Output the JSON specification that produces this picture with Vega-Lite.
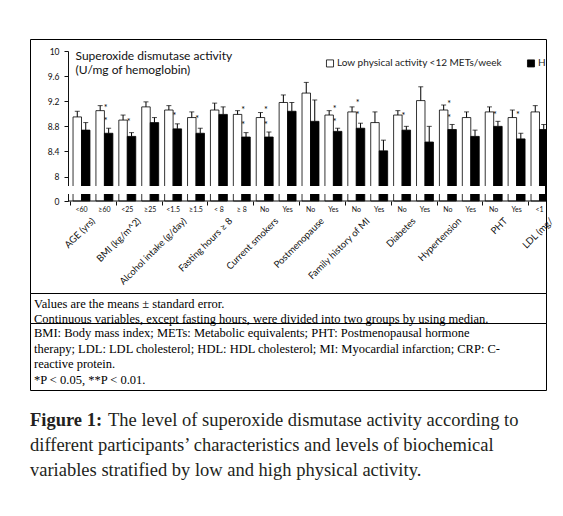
{
  "$schema": "https://vega.github.io/schema/vega-lite/v6.json",
  "description": "Superoxide dismutase activity by participant characteristics, low vs high physical activity.",
  "padding": {"left": 25, "top": 38, "right": 0, "bottom": 0},
  "background": "white",
  "spacing": 0,
  "bounds": "flush",
  "datasets": {
    "bars": [
      {"key": "AGE|<60", "series": "Low physical activity <12 METs/week", "mean": 8.95, "upper": 9.04},
      {"key": "AGE|<60", "series": "High physical activity ≥12 METs/week", "mean": 8.74, "upper": 8.86},
      {"key": "AGE|≥60", "series": "Low physical activity <12 METs/week", "mean": 9.05, "upper": 9.13},
      {"key": "AGE|≥60", "series": "High physical activity ≥12 METs/week", "mean": 8.69, "upper": 8.77},
      {"key": "BMI|<25", "series": "Low physical activity <12 METs/week", "mean": 8.90, "upper": 8.98},
      {"key": "BMI|<25", "series": "High physical activity ≥12 METs/week", "mean": 8.64, "upper": 8.70},
      {"key": "BMI|≥25", "series": "Low physical activity <12 METs/week", "mean": 9.11, "upper": 9.19},
      {"key": "BMI|≥25", "series": "High physical activity ≥12 METs/week", "mean": 8.86, "upper": 8.94},
      {"key": "ALC|<1.5", "series": "Low physical activity <12 METs/week", "mean": 9.06, "upper": 9.13},
      {"key": "ALC|<1.5", "series": "High physical activity ≥12 METs/week", "mean": 8.76, "upper": 8.84},
      {"key": "ALC|≥1.5", "series": "Low physical activity <12 METs/week", "mean": 8.94, "upper": 9.03},
      {"key": "ALC|≥1.5", "series": "High physical activity ≥12 METs/week", "mean": 8.69, "upper": 8.77},
      {"key": "FAST|< 8", "series": "Low physical activity <12 METs/week", "mean": 9.06, "upper": 9.17},
      {"key": "FAST|< 8", "series": "High physical activity ≥12 METs/week", "mean": 8.99, "upper": 9.11},
      {"key": "FAST|≥ 8", "series": "Low physical activity <12 METs/week", "mean": 8.99, "upper": 9.05},
      {"key": "FAST|≥ 8", "series": "High physical activity ≥12 METs/week", "mean": 8.63, "upper": 8.70},
      {"key": "SMK|No", "series": "Low physical activity <12 METs/week", "mean": 8.94, "upper": 9.02},
      {"key": "SMK|No", "series": "High physical activity ≥12 METs/week", "mean": 8.63, "upper": 8.71},
      {"key": "SMK|Yes", "series": "Low physical activity <12 METs/week", "mean": 9.18, "upper": 9.30},
      {"key": "SMK|Yes", "series": "High physical activity ≥12 METs/week", "mean": 9.04, "upper": 9.18},
      {"key": "PM|No", "series": "Low physical activity <12 METs/week", "mean": 9.33, "upper": 9.50},
      {"key": "PM|No", "series": "High physical activity ≥12 METs/week", "mean": 8.88, "upper": 9.22},
      {"key": "PM|Yes", "series": "Low physical activity <12 METs/week", "mean": 8.98, "upper": 9.05},
      {"key": "PM|Yes", "series": "High physical activity ≥12 METs/week", "mean": 8.72, "upper": 8.77},
      {"key": "FMI|No", "series": "Low physical activity <12 METs/week", "mean": 9.03, "upper": 9.11},
      {"key": "FMI|No", "series": "High physical activity ≥12 METs/week", "mean": 8.77, "upper": 8.85},
      {"key": "FMI|Yes", "series": "Low physical activity <12 METs/week", "mean": 8.86, "upper": 9.03},
      {"key": "FMI|Yes", "series": "High physical activity ≥12 METs/week", "mean": 8.41, "upper": 8.58},
      {"key": "DM|No", "series": "Low physical activity <12 METs/week", "mean": 8.98, "upper": 9.05},
      {"key": "DM|No", "series": "High physical activity ≥12 METs/week", "mean": 8.74, "upper": 8.80},
      {"key": "DM|Yes", "series": "Low physical activity <12 METs/week", "mean": 9.21, "upper": 9.43},
      {"key": "DM|Yes", "series": "High physical activity ≥12 METs/week", "mean": 8.55, "upper": 8.80},
      {"key": "HTN|No", "series": "Low physical activity <12 METs/week", "mean": 9.06, "upper": 9.14},
      {"key": "HTN|No", "series": "High physical activity ≥12 METs/week", "mean": 8.75, "upper": 8.83},
      {"key": "HTN|Yes", "series": "Low physical activity <12 METs/week", "mean": 8.94, "upper": 9.03},
      {"key": "HTN|Yes", "series": "High physical activity ≥12 METs/week", "mean": 8.64, "upper": 8.74},
      {"key": "PHT|No", "series": "Low physical activity <12 METs/week", "mean": 9.03, "upper": 9.11},
      {"key": "PHT|No", "series": "High physical activity ≥12 METs/week", "mean": 8.80, "upper": 8.88},
      {"key": "PHT|Yes", "series": "Low physical activity <12 METs/week", "mean": 8.94, "upper": 9.06},
      {"key": "PHT|Yes", "series": "High physical activity ≥12 METs/week", "mean": 8.60, "upper": 8.69},
      {"key": "LDL|<1", "series": "Low physical activity <12 METs/week", "mean": 9.03, "upper": 9.13},
      {"key": "LDL|<1", "series": "High physical activity ≥12 METs/week", "mean": 8.75, "upper": 8.83}
    ],
    "stars": [
      {"key": "AGE|≥60", "series": "High physical activity ≥12 METs/week", "pos": 9.12},
      {"key": "AGE|≥60", "series": "High physical activity ≥12 METs/week", "pos": 8.92},
      {"key": "BMI|<25", "series": "High physical activity ≥12 METs/week", "pos": 8.90},
      {"key": "ALC|<1.5", "series": "High physical activity ≥12 METs/week", "pos": 9.00},
      {"key": "ALC|≥1.5", "series": "High physical activity ≥12 METs/week", "pos": 8.95},
      {"key": "FAST|≥ 8", "series": "High physical activity ≥12 METs/week", "pos": 9.10},
      {"key": "FAST|≥ 8", "series": "High physical activity ≥12 METs/week", "pos": 8.85},
      {"key": "SMK|No", "series": "High physical activity ≥12 METs/week", "pos": 9.10},
      {"key": "SMK|No", "series": "High physical activity ≥12 METs/week", "pos": 8.86},
      {"key": "PM|Yes", "series": "High physical activity ≥12 METs/week", "pos": 9.11},
      {"key": "PM|Yes", "series": "High physical activity ≥12 METs/week", "pos": 8.90},
      {"key": "FMI|No", "series": "High physical activity ≥12 METs/week", "pos": 9.20},
      {"key": "FMI|No", "series": "High physical activity ≥12 METs/week", "pos": 9.01},
      {"key": "DM|No", "series": "High physical activity ≥12 METs/week", "pos": 8.99},
      {"key": "HTN|No", "series": "High physical activity ≥12 METs/week", "pos": 9.19},
      {"key": "HTN|No", "series": "High physical activity ≥12 METs/week", "pos": 8.97},
      {"key": "PHT|No", "series": "High physical activity ≥12 METs/week", "pos": 9.01},
      {"key": "PHT|Yes", "series": "High physical activity ≥12 METs/week", "pos": 9.01}
    ],
    "groups": [
      {"group": "AGE (yrs)"}, {"group": "BMI (kg/m^2)"}, {"group": "Alcohol intake (g/day)"},
      {"group": "Fasting hours ≥ 8"}, {"group": "Current smokers"}, {"group": "Postmenopause"},
      {"group": "Family history of MI"}, {"group": "Diabetes"}, {"group": "Hypertension"},
      {"group": "PHT"}, {"group": "LDL (mg/dL)"}
    ]
  },
  "vconcat": [
    {
      "width": 516,
      "height": 254,
      "view": {"stroke": "black", "strokeWidth": 1},
      "layer": [
        {
          "layer": [
            {
              "data": {"name": "bars"},
              "mark": {"type": "bar", "stroke": "black", "strokeWidth": 0.8, "clip": true},
              "encoding": {
                "x": {
                  "field": "key",
                  "type": "nominal",
                  "scale": {
                    "domain": ["AGE|<60", "AGE|≥60", "BMI|<25", "BMI|≥25", "ALC|<1.5", "ALC|≥1.5", "FAST|< 8", "FAST|≥ 8", "SMK|No", "SMK|Yes", "PM|No", "PM|Yes", "FMI|No", "FMI|Yes", "DM|No", "DM|Yes", "HTN|No", "HTN|Yes", "PHT|No", "PHT|Yes", "LDL|<1"],
                    "range": [38, 523],
                    "paddingInner": 0.26,
                    "paddingOuter": 0.22
                  },
                  "axis": {
                    "orient": "bottom",
                    "offset": -92,
                    "title": null,
                    "domain": false,
                    "ticks": false,
                    "labelAngle": 0,
                    "labelFontSize": 7,
                    "labelPadding": 4,
                    "labelBaseline": "top",
                    "labelColor": "#111",
                    "labelFont": "Lato",
                    "labelOverlap": false,
                    "labelFlush": false,
                    "labelExpr": "split(datum.label, '|')[1]"
                  }
                },
                "xOffset": {
                  "field": "series",
                  "type": "nominal",
                  "scale": {
                    "domain": ["Low physical activity <12 METs/week", "High physical activity ≥12 METs/week"],
                    "paddingInner": 0,
                    "paddingOuter": 0
                  }
                },
                "y": {
                  "field": "mean",
                  "type": "quantitative",
                  "scale": {"domain": [0, 1, 7.85, 10], "range": [162, 155, 147, 12], "nice": false, "zero": false},
                  "axis": {
                    "orient": "left",
                    "offset": -38,
                    "values": [0, 8, 8.4, 8.8, 9.2, 9.6, 10],
                    "labelExpr": "datum.value == 0 ? '0' : (datum.value == 8 || datum.value == 10) ? format(datum.value, 'd') : format(datum.value, '.1f')",
                    "grid": false,
                    "tickSize": 4,
                    "tickColor": "#111",
                    "domainColor": "#111",
                    "labelPadding": 5,
                    "labelFontSize": 8.5,
                    "labelFont": "Lato",
                    "labelColor": "#111",
                    "title": ["Superoxide dismutase activity", "(U/mg of hemoglobin)"],
                    "titleAngle": 0,
                    "titleAlign": "left",
                    "titleBaseline": "top",
                    "titleX": 7,
                    "titleY": 11,
                    "titleFont": "Lato",
                    "titleFontSize": 12,
                    "titleFontWeight": "normal",
                    "titleColor": "#111",
                    "titleLineHeight": 14
                  }
                },
                "fill": {
                  "field": "series",
                  "type": "nominal",
                  "scale": {
                    "domain": ["Low physical activity <12 METs/week", "High physical activity ≥12 METs/week"],
                    "range": ["white", "black"]
                  },
                  "legend": {
                    "orient": "none",
                    "legendX": 295,
                    "legendY": 19,
                    "direction": "horizontal",
                    "title": null,
                    "symbolType": "square",
                    "symbolSize": 50,
                    "symbolStrokeColor": "black",
                    "symbolStrokeWidth": 0.8,
                    "labelFont": "Lato",
                    "labelFontSize": 10,
                    "labelOffset": 2,
                    "labelColor": "#222",
                    "labelLimit": 300,
                    "columnPadding": 22,
                    "labelExpr": "indexof(datum.label, 'High') == 0 ? 'H' : datum.label"
                  }
                }
              }
            },
            {
              "data": {"name": "bars"},
              "mark": {"type": "rule", "color": "black", "strokeWidth": 1, "clip": true},
              "encoding": {
                "x": {"field": "key", "type": "nominal"},
                "xOffset": {"field": "series", "type": "nominal"},
                "y": {"field": "mean", "type": "quantitative"},
                "y2": {"field": "upper"}
              }
            },
            {
              "data": {"name": "bars"},
              "mark": {"type": "tick", "color": "black", "thickness": 1, "size": 5, "clip": true},
              "encoding": {
                "x": {"field": "key", "type": "nominal"},
                "xOffset": {"field": "series", "type": "nominal"},
                "y": {"field": "upper", "type": "quantitative"}
              }
            },
            {
              "data": {"name": "stars"},
              "mark": {"type": "text", "text": "*", "font": "Lato", "fontSize": 9, "dx": -3, "dy": 2, "baseline": "middle", "color": "black"},
              "encoding": {
                "x": {"field": "key", "type": "nominal"},
                "xOffset": {"field": "series", "type": "nominal"},
                "y": {"field": "pos", "type": "quantitative"}
              }
            },
            {
              "data": {"values": [{}]},
              "mark": {"type": "rect", "color": "white", "xOffset": -8, "x2Offset": -1},
              "encoding": {
                "x": {"datum": "AGE|<60", "type": "nominal", "bandPosition": 0},
                "x2": {"value": "width"},
                "y": {"datum": 1, "type": "quantitative"},
                "y2": {"datum": 7.85}
              }
            },
            {
              "data": {"values": [{}]},
              "mark": {"type": "rule", "color": "#111", "strokeWidth": 1, "xOffset": -5},
              "encoding": {
                "x": {"datum": "AGE|<60", "type": "nominal", "bandPosition": 0},
                "x2": {"value": "width"},
                "y": {"datum": 0, "type": "quantitative"}
              }
            }
          ]
        },
        {
          "data": {"name": "groups"},
          "mark": {"type": "point", "opacity": 0},
          "encoding": {
            "x": {
              "field": "group",
              "type": "nominal",
              "scale": {
                "type": "band",
                "domain": ["AGE (yrs)", "BMI (kg/m^2)", "Alcohol intake (g/day)", "Fasting hours ≥ 8", "Current smokers", "Postmenopause", "Family history of MI", "Diabetes", "Hypertension", "PHT", "LDL (mg/dL)"],
                "range": [40, 544],
                "paddingInner": 0,
                "paddingOuter": 0
              },
              "axis": {
                "orient": "bottom",
                "offset": -92,
                "title": null,
                "domain": false,
                "ticks": true,
                "tickBand": "extent",
                "tickSize": 4,
                "tickColor": "#111",
                "labelAngle": -45,
                "labelAlign": "right",
                "labelBaseline": "middle",
                "labelPadding": 14,
                "labelFont": "Lato",
                "labelFontSize": 9.5,
                "labelColor": "#111",
                "labelOverlap": false,
                "labelBound": false,
                "labelFlush": false,
                "labelExpr": "datum.label == 'LDL (mg/dL)' ? 'LDL (mg/' : datum.label"
              }
            }
          }
        }
      ],
      "resolve": {"scale": {"x": "independent"}, "axis": {"x": "independent"}}
    },
    {
      "width": 516,
      "height": 30,
      "view": {"stroke": "black", "strokeWidth": 1},
      "data": {
        "values": [
          {"line": 1, "text": "Values are the means ± standard error."},
          {"line": 2, "text": "Continuous variables, except fasting hours, were divided into two groups by using median."}
        ]
      },
      "mark": {"type": "text", "align": "left", "baseline": "middle", "font": "Liberation Serif", "fontSize": 12.5, "dx": 4, "color": "black"},
      "encoding": {
        "x": {"datum": 0, "type": "quantitative", "scale": {"domain": [0, 1]}, "axis": null},
        "y": {"field": "line", "type": "ordinal", "scale": {"type": "point", "padding": 0.5, "align": 0.75}, "axis": null},
        "text": {"field": "text", "type": "nominal"}
      }
    },
    {
      "width": 516,
      "height": 67,
      "view": {"stroke": "black", "strokeWidth": 1},
      "data": {
        "values": [
          {"line": 1, "text": "BMI: Body mass index; METs: Metabolic equivalents; PHT: Postmenopausal hormone"},
          {"line": 2, "text": "therapy; LDL: LDL cholesterol; HDL: HDL cholesterol; MI: Myocardial infarction; CRP: C-"},
          {"line": 3, "text": "reactive protein."},
          {"line": 4, "text": "*P < 0.05, **P < 0.01."}
        ]
      },
      "mark": {"type": "text", "align": "left", "baseline": "middle", "font": "Liberation Serif", "fontSize": 12.5, "dx": 4, "color": "black"},
      "encoding": {
        "x": {"datum": 0, "type": "quantitative", "scale": {"domain": [0, 1]}, "axis": null},
        "y": {"field": "line", "type": "ordinal", "scale": {"type": "point", "padding": 0.66, "align": 0.5}, "axis": null},
        "text": {"field": "text", "type": "nominal"}
      }
    },
    {
      "width": 516,
      "height": 100,
      "data": {
        "values": [
          {"line": 1, "lead": "Figure 1:", "text": "The level of superoxide dismutase activity according to"},
          {"line": 2, "lead": "", "text": "different participants’ characteristics and levels of biochemical"},
          {"line": 3, "lead": "", "text": "variables stratified by low and high physical activity."}
        ]
      },
      "encoding": {
        "x": {"datum": 0, "type": "quantitative", "scale": {"domain": [0, 1]}, "axis": null},
        "y": {"field": "line", "type": "ordinal", "scale": {"type": "point", "padding": 1.2, "align": 0.6}, "axis": null}
      },
      "layer": [
        {
          "transform": [{"filter": "datum.line == 1"}],
          "mark": {"type": "text", "align": "left", "baseline": "middle", "font": "Liberation Serif", "fontSize": 18.5, "fontWeight": "bold", "color": "#231f20"},
          "encoding": {"text": {"field": "lead", "type": "nominal"}}
        },
        {
          "transform": [{"filter": "datum.line == 1"}],
          "mark": {"type": "text", "align": "left", "baseline": "middle", "font": "Liberation Serif", "fontSize": 18.5, "dx": 78, "color": "#231f20"},
          "encoding": {"text": {"field": "text", "type": "nominal"}}
        },
        {
          "transform": [{"filter": "datum.line > 1"}],
          "mark": {"type": "text", "align": "left", "baseline": "middle", "font": "Liberation Serif", "fontSize": 18.5, "color": "#231f20"},
          "encoding": {"text": {"field": "text", "type": "nominal"}}
        }
      ]
    }
  ],
  "config": {
    "view": {"stroke": null},
    "font": "Lato"
  }
}
